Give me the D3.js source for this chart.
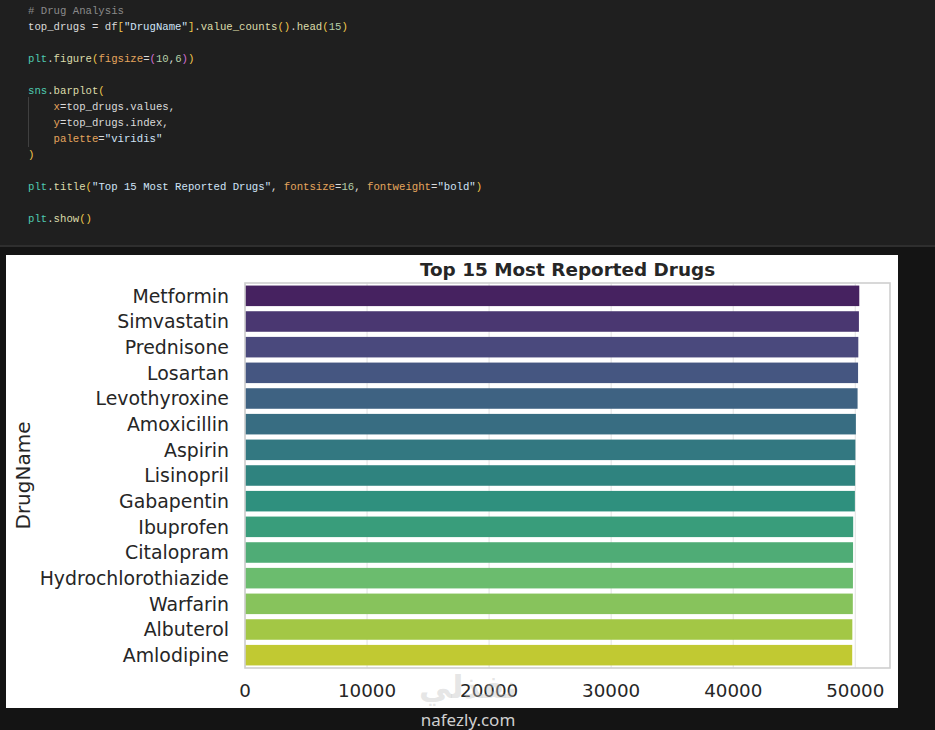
<!DOCTYPE html>
<html>
<head>
<meta charset="utf-8">
<script src="https://cdn.jsdelivr.net/npm/d3@7/dist/d3.min.js"></script>
<style>
  html, body { margin: 0; padding: 0; background: #141414; }
  svg { display: block; }
</style>
</head>
<body>
<svg id="chart" width="935" height="730"></svg>
<script>
// ---------- data ----------
const drugs = ["Metformin", "Simvastatin", "Prednisone", "Losartan", "Levothyroxine",
  "Amoxicillin", "Aspirin", "Lisinopril", "Gabapentin", "Ibuprofen", "Citalopram",
  "Hydrochlorothiazide", "Warfarin", "Albuterol", "Amlodipine"];
const counts = [50330, 50300, 50250, 50230, 50190, 50050, 50010, 49990, 49970,
  49830, 49820, 49810, 49800, 49760, 49750];
const xTicks = [0, 10000, 20000, 30000, 40000, 50000];
const titleText = "Top 15 Most Reported Drugs";
const yLabel = "DrugName";

// code cell lines: arrays of [text, colour-key]
const codeLines = [
  [["# Drug Analysis", "cm"]],
  [["top_drugs = df", "tx"], ["[", "br"], ["\"DrugName\"", "st"], ["]", "br"], [".", "tx"], ["value_counts", "fn"], ["()", "br"], [".", "tx"], ["head", "fn"], ["(", "br"], ["15", "nm"], [")", "br"]],
  [],
  [["plt", "md"], [".", "tx"], ["figure", "fn"], ["(", "br"], ["figsize", "pm"], ["=", "tx"], ["(", "b2"], ["10", "nm"], [",", "tx"], ["6", "nm"], [")", "b2"], [")", "br"]],
  [],
  [["sns", "md"], [".", "tx"], ["barplot", "fn"], ["(", "br"]],
  [["    ", "tx"], ["x", "pm"], ["=top_drugs.values,", "tx"]],
  [["    ", "tx"], ["y", "pm"], ["=top_drugs.index,", "tx"]],
  [["    ", "tx"], ["palette", "pm"], ["=", "tx"], ["\"viridis\"", "st"]],
  [[")", "br"]],
  [],
  [["plt", "md"], [".", "tx"], ["title", "fn"], ["(", "br"], ["\"Top 15 Most Reported Drugs\"", "st"], [", ", "tx"], ["fontsize", "pm"], ["=", "tx"], ["16", "nm"], [", ", "tx"], ["fontweight", "pm"], ["=", "tx"], ["\"bold\"", "st"], [")", "br"]],
  [],
  [["plt", "md"], [".", "tx"], ["show", "fn"], ["()", "br"]]
];
const codeColors = { cm: "#8a8a8a", tx: "#dadada", br: "#f2c94c", b2: "#d670d6", st: "#cfe3f7",
  fn: "#dcdcaa", nm: "#b5cea8", md: "#4ec9b0", pm: "#e5a55d" };

// ---------- drawing ----------
const svg = d3.select("#chart");

// backgrounds
svg.append("rect").attr("x", 0).attr("y", 0).attr("width", 935).attr("height", 730).attr("fill", "#141414");
svg.append("rect").attr("x", 0).attr("y", 0).attr("width", 935).attr("height", 245).attr("fill", "#1f1f1f");
svg.append("rect").attr("x", 0).attr("y", 245).attr("width", 935).attr("height", 2).attr("fill", "#2e2e2e");

// code cell
const code = svg.append("g").attr("font-family", "'Liberation Mono', 'DejaVu Sans Mono', monospace")
  .attr("font-size", 10.67);
svg.append("line").attr("x1", 28.5).attr("x2", 28.5).attr("y1", 97).attr("y2", 147)
  .attr("stroke", "#404040").attr("stroke-width", 1);
codeLines.forEach((segs, i) => {
  if (!segs.length) return;
  const t = code.append("text").attr("x", 28).attr("y", 13.5 + i * 16)
    .attr("xml:space", "preserve").style("white-space", "pre");
  segs.forEach(([s, k]) => t.append("tspan").attr("fill", codeColors[k]).text(s));
});

// white figure panel
svg.append("rect").attr("x", 6).attr("y", 255).attr("width", 892).attr("height", 453).attr("fill", "#ffffff");

const m = { left: 245, right: 890, top: 283, bottom: 668 };
const x = d3.scaleLinear().domain([0, d3.max(counts) * 1.05]).range([m.left, m.right]);
const y = d3.scaleBand().domain(drugs).range([m.top, m.bottom]).paddingInner(0.2).paddingOuter(0.1);

function desat(c, p) { const h = d3.hsl(c); h.s *= p; return h.formatHex(); }
const colors = drugs.map((d, i) => desat(d3.interpolateViridis((i + 1) / (drugs.length + 1)), 0.75));

// grid
svg.append("g").selectAll("line").data(xTicks).join("line")
  .attr("x1", d => x(d)).attr("x2", d => x(d)).attr("y1", m.top).attr("y2", m.bottom)
  .attr("stroke", "#e2e2e2").attr("stroke-width", 1);

// bars
svg.append("g").selectAll("rect").data(drugs).join("rect")
  .attr("x", x(0)).attr("y", d => y(d))
  .attr("width", (d, i) => x(counts[i]) - x(0)).attr("height", y.bandwidth())
  .attr("fill", (d, i) => colors[i]);

// spines
svg.append("rect").attr("x", m.left).attr("y", m.top).attr("width", m.right - m.left).attr("height", m.bottom - m.top)
  .attr("fill", "none").attr("stroke", "#cfcfcf").attr("stroke-width", 1.6);

const font = "'DejaVu Sans', sans-serif";
// x tick labels
svg.append("g").selectAll("text").data(xTicks).join("text")
  .attr("x", d => x(d)).attr("y", 697).attr("text-anchor", "middle")
  .attr("font-family", font).attr("font-size", 18.3).attr("fill", "#262626")
  .text(d => d);

// y tick labels
svg.append("g").selectAll("text").data(drugs).join("text")
  .attr("x", 229).attr("y", d => y(d) + y.bandwidth() / 2).attr("dy", "0.36em")
  .attr("text-anchor", "end").attr("font-family", font).attr("font-size", 18.9).attr("fill", "#262626")
  .text(d => d);

// y label
svg.append("text").attr("transform", `translate(30,${(m.top + m.bottom) / 2}) rotate(-90)`)
  .attr("text-anchor", "middle").attr("font-family", font).attr("font-size", 20).attr("fill", "#262626")
  .text(yLabel);

// title
svg.append("text").attr("x", (m.left + m.right) / 2).attr("y", 276).attr("text-anchor", "middle")
  .attr("font-family", font).attr("font-weight", "bold").attr("font-size", 18.4).attr("fill", "#262626")
  .text(titleText);

// watermark
svg.append("text").attr("x", 468).attr("y", 698).attr("text-anchor", "middle")
  .attr("font-family", font).attr("font-weight", "bold").attr("font-size", 32)
  .attr("fill", "#bdbdbd").attr("fill-opacity", 0.4).text("نفذلي");
svg.append("text").attr("x", 468).attr("y", 726).attr("text-anchor", "middle")
  .attr("font-family", "'Noto Sans', 'Open Sans', sans-serif").attr("font-size", 17)
  .attr("fill", "#cfcfcf").text("nafezly.com");
</script>
</body>
</html>
